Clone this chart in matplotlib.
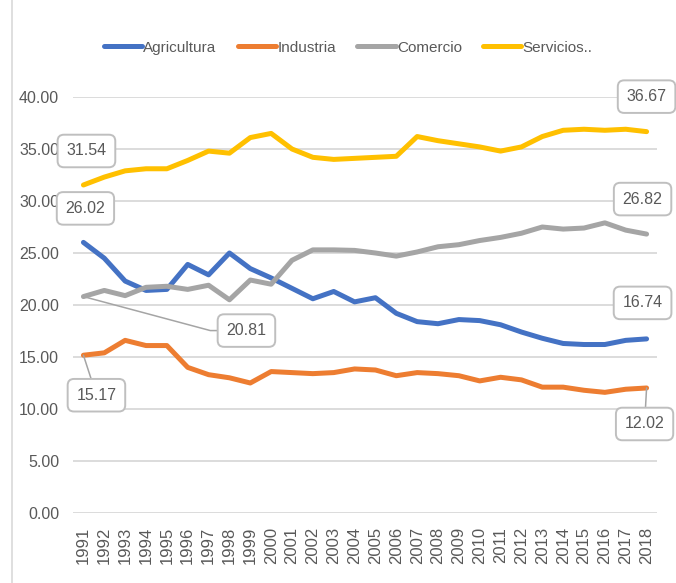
import matplotlib
matplotlib.use("Agg")
import matplotlib.pyplot as plt
from matplotlib import font_manager
from matplotlib.lines import Line2D

years = list(range(1991, 2019))

agricultura = [26.02, 24.5, 22.3, 21.4, 21.5, 23.9, 22.9, 25.0, 23.5, 22.6,
               21.6, 20.6, 21.3, 20.3, 20.7, 19.2, 18.4, 18.2, 18.6, 18.5,
               18.1, 17.4, 16.8, 16.3, 16.2, 16.2, 16.6, 16.74]
industria = [15.17, 15.4, 16.6, 16.1, 16.1, 14.0, 13.3, 13.0, 12.5, 13.6,
             13.5, 13.4, 13.5, 13.85, 13.75, 13.2, 13.5, 13.4, 13.2, 12.7,
             13.05, 12.8, 12.1, 12.1, 11.8, 11.6, 11.9, 12.02]
comercio = [20.81, 21.4, 20.9, 21.7, 21.8, 21.5, 21.9, 20.5, 22.4, 22.0,
            24.3, 25.3, 25.3, 25.25, 25.0, 24.7, 25.1, 25.6, 25.8, 26.2,
            26.5, 26.9, 27.5, 27.3, 27.4, 27.9, 27.2, 26.82]
servicios = [31.54, 32.3, 32.9, 33.1, 33.1, 33.9, 34.8, 34.6, 36.1, 36.5,
             35.0, 34.2, 34.0, 34.1, 34.2, 34.3, 36.2, 35.8, 35.5, 35.2,
             34.8, 35.2, 36.2, 36.8, 36.9, 36.8, 36.9, 36.67]

series_names = ["Agricultura", "Industria", "Comercio", "Servicios.."]
series_values = [agricultura, industria, comercio, servicios]
colors = ["#4472C4", "#ED7D31", "#A5A5A5", "#FFC000"]

y_ticks = [0, 5, 10, 15, 20, 25, 30, 35, 40]

installed = {f.name for f in font_manager.fontManager.ttflist}
narrow = "Liberation Sans Narrow" if "Liberation Sans Narrow" in installed else "Liberation Sans"

text_color = "#595959"
grid_color = "#D9D9D9"

fig = plt.figure(figsize=(6.76, 5.83), dpi=100)
ax = fig.add_axes([0.108, 0.1201, 0.8639, 0.7135])

for name, vals, c in zip(series_names, series_values, colors):
    ax.plot(years, vals, color=c, lw=3.6, label=name, solid_capstyle="round",
            solid_joinstyle="round", clip_on=False, zorder=3)

ax.set_xlim(1990.5, 2018.5)
ax.set_ylim(0, 40)
ax.set_yticks(y_ticks)
ax.set_yticklabels([f"{v:.2f}" for v in y_ticks], fontfamily=narrow,
                   fontsize=11.5, color=text_color)
ax.set_xticks(years)
ax.set_xticklabels([str(y) for y in years], rotation=90, fontfamily="Liberation Sans",
                   fontsize=12, color=text_color)
ax.tick_params(axis="y", length=0, pad=10)
ax.tick_params(axis="x", length=0, pad=10)
ax.grid(axis="y", color=grid_color, lw=1.3)
ax.set_axisbelow(True)
for s in ax.spines.values():
    s.set_visible(False)

# data labels: (series index, point index, offset in pixels, leader line?)
labels = [
    (3, 0, (3, 34), None),
    (0, 0, (2, 34), None),
    (2, 0, (163, -34), "angle,angleA=0,angleB=-15"),
    (1, 0, (13, -40), "arc3"),
    (3, -1, (0, 35), None),
    (2, -1, (-4, 35), None),
    (0, -1, (-4, 36), None),
    (1, -1, (-2, -36), "arc3"),
]
for si, pi, off, conn in labels:
    val = series_values[si][pi]
    arrow = None
    if conn:
        arrow = dict(arrowstyle="-", color="#A5A5A5", lw=1.1, shrinkA=0, shrinkB=0,
                     connectionstyle=conn)
    ax.annotate(f"{val:.2f}", xy=(years[pi], val), xytext=off,
                textcoords="offset pixels", ha="center", va="center",
                fontfamily=narrow, fontsize=11.5, color=text_color,
                bbox=dict(boxstyle="round,pad=0.55,rounding_size=0.4", fc="white",
                          ec="#BFBFBF", lw=1.4),
                arrowprops=arrow, zorder=5, annotation_clip=False)

leg = fig.legend(loc="center", bbox_to_anchor=(0.515, 0.918), ncol=4, frameon=False,
                 handlelength=2.5, handletextpad=0.08, columnspacing=1.4,
                 prop={"family": narrow, "size": 11})
for t in leg.get_texts():
    t.set_color(text_color)
for h in leg.get_lines():
    h.set_linewidth(3.6)

# light chart-area border on the left
fig.add_artist(Line2D([0.018, 0.018], [0, 1], transform=fig.transFigure,
                      color=grid_color, lw=1.2))

fig.savefig("out.png", dpi=100)
